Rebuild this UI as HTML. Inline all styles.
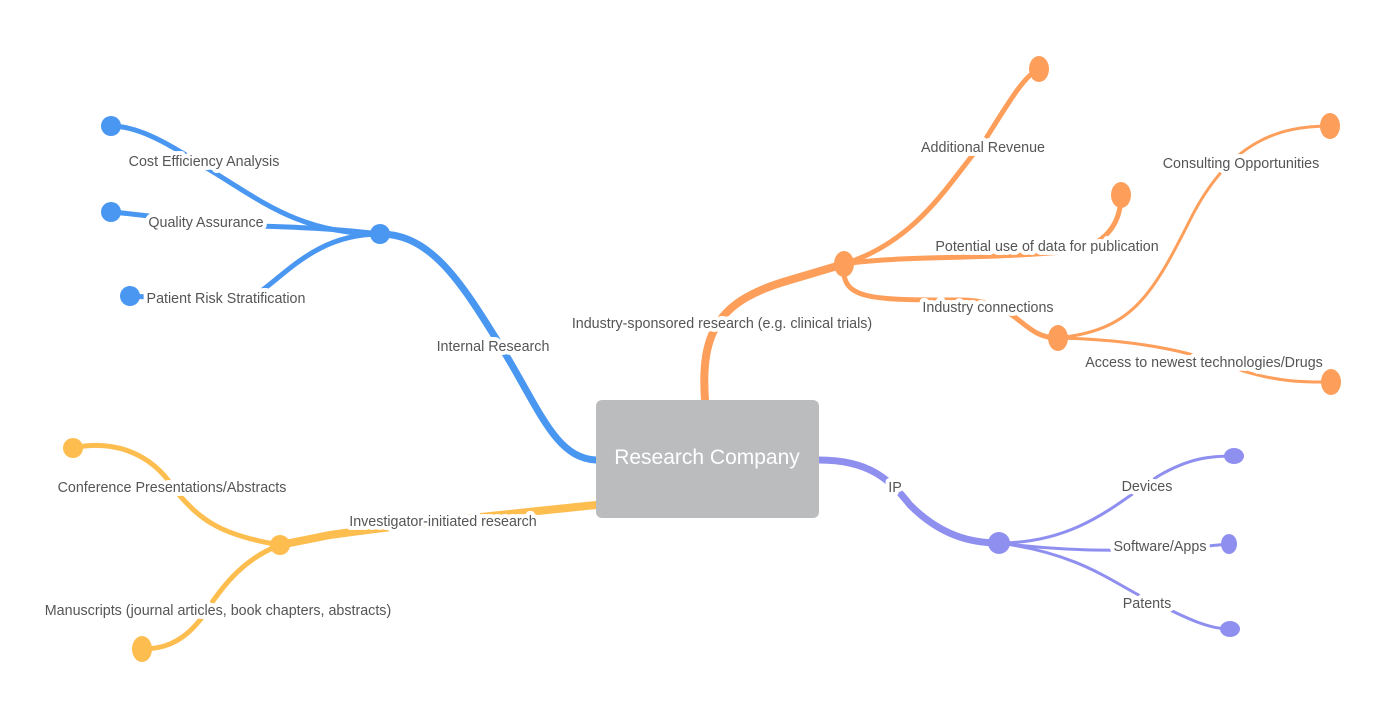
<!DOCTYPE html>
<html><head><meta charset="utf-8"><style>
html,body{margin:0;padding:0;background:#fff;}
svg{display:block;}
text{font-family:"Liberation Sans",sans-serif;font-size:14.3px;fill:#555;paint-order:stroke;stroke:#fff;stroke-width:8px;stroke-linejoin:round;}
</style></head><body>
<svg width="1383" height="701" viewBox="0 0 1383 701" xmlns="http://www.w3.org/2000/svg">
<g fill="none" stroke-linecap="round">
<g stroke="#4a97f2">
<path d="M596,460 C555,458 540,410 500,345 C460,280 430,234 380,234" stroke-width="7"/>
<path d="M380,234 C300,234 260,200 210,170 C170,145 140,126 111,126" stroke-width="5"/>
<path d="M380,234 C330,228 290,227 260,226 C200,224 140,214 111,212" stroke-width="5"/>
<path d="M380,234 C320,234 290,270 260,292 C220,300 160,298 130,296" stroke-width="5"/>
</g>
<g stroke="#fd9e5a">
<path d="M705,400 C700,330 720,300 790,280 L844,264" stroke-width="8"/>
<path d="M844,264 C920,240 950,180 985,140 C1010,100 1025,75 1039,69" stroke-width="5"/>
<path d="M844,264 C900,255 1000,260 1080,250 C1110,240 1121,220 1121,195" stroke-width="5"/>
<path d="M844,264 C840,300 870,300 960,300 C1020,300 1020,338 1058,338" stroke-width="5"/>
<path d="M1058,338 C1130,330 1150,300 1190,220 C1230,140 1280,126 1330,126" stroke-width="3"/>
<path d="M1058,338 C1150,340 1200,355 1240,370 C1280,383 1310,382 1331,382" stroke-width="3"/>
</g>
<g stroke="#8f8ff0">
<path d="M819,460 C870,460 890,480 910,505 C940,535 970,543 999,543" stroke-width="7"/>
<path d="M999,543 C1080,543 1120,500 1160,475 C1190,458 1210,456 1234,456" stroke-width="3"/>
<path d="M999,543 C1080,553 1150,552 1229,544" stroke-width="3"/>
<path d="M999,543 C1090,555 1120,590 1160,605 C1190,620 1210,629 1230,629" stroke-width="3"/>
</g>
<g stroke="#fdbd4f">
<path d="M596,505 C500,515 400,525 330,535 L280,545" stroke-width="8"/>
<path d="M280,545 C220,535 200,520 175,490 C150,450 110,440 73,448" stroke-width="5"/>
<path d="M280,545 C240,560 220,590 200,620 C180,645 160,649 142,649" stroke-width="5"/>
</g>
</g>
<g fill="#4a97f2">
<circle cx="380" cy="234" r="10"/><circle cx="111" cy="126" r="10"/><circle cx="111" cy="212" r="10"/><circle cx="130" cy="296" r="10"/>
</g>
<g fill="#fd9e5a">
<ellipse cx="844" cy="264" rx="10" ry="13"/><ellipse cx="1039" cy="69" rx="10" ry="13"/><ellipse cx="1121" cy="195" rx="10" ry="13"/><ellipse cx="1058" cy="338" rx="10" ry="13"/><ellipse cx="1330" cy="126" rx="10" ry="13"/><ellipse cx="1331" cy="382" rx="10" ry="13"/>
</g>
<g fill="#8f8ff0">
<circle cx="999" cy="543" r="11"/><ellipse cx="1234" cy="456" rx="10" ry="8"/><ellipse cx="1229" cy="544" rx="8" ry="10"/><ellipse cx="1230" cy="629" rx="10" ry="8"/>
</g>
<g fill="#fdbd4f">
<circle cx="280" cy="545" r="10"/><circle cx="73" cy="448" r="10"/><ellipse cx="142" cy="649" rx="10" ry="13"/>
</g>
<rect x="596" y="400" width="223" height="118" rx="6" fill="#bbbcbe"/>
<text x="707" y="464" text-anchor="middle" style="font-size:21px;fill:#fff;stroke:none">Research Company</text>
<text x="204" y="166" text-anchor="middle">Cost Efficiency Analysis</text>
<text x="206" y="227" text-anchor="middle">Quality Assurance</text>
<text x="226" y="303" text-anchor="middle">Patient Risk Stratification</text>
<text x="493" y="351" text-anchor="middle">Internal Research</text>
<text x="722" y="328" text-anchor="middle">Industry-sponsored research (e.g. clinical trials)</text>
<text x="983" y="152" text-anchor="middle">Additional Revenue</text>
<text x="1047" y="251" text-anchor="middle">Potential use of data for publication</text>
<text x="988" y="312" text-anchor="middle">Industry connections</text>
<text x="1241" y="168" text-anchor="middle">Consulting Opportunities</text>
<text x="1204" y="367" text-anchor="middle">Access to newest technologies/Drugs</text>
<text x="895" y="492" text-anchor="middle">IP</text>
<text x="1147" y="491" text-anchor="middle">Devices</text>
<text x="1160" y="551" text-anchor="middle">Software/Apps</text>
<text x="1147" y="608" text-anchor="middle">Patents</text>
<text x="443" y="526" text-anchor="middle">Investigator-initiated research</text>
<text x="172" y="492" text-anchor="middle">Conference Presentations/Abstracts</text>
<text x="218" y="615" text-anchor="middle">Manuscripts (journal articles, book chapters, abstracts)</text>
</svg>
</body></html>
